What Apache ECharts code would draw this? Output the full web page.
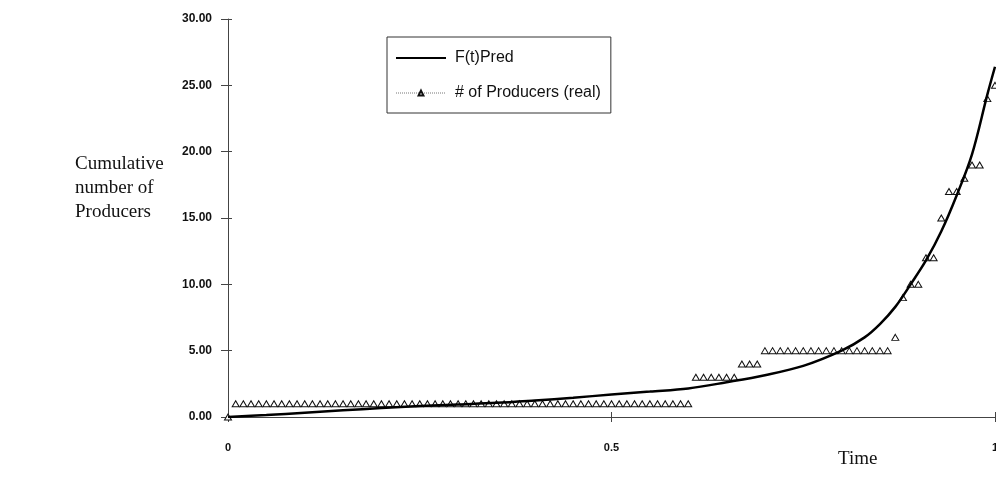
<!DOCTYPE html>
<html>
<head>
<meta charset="utf-8">
<script src="https://cdn.jsdelivr.net/npm/echarts@6/dist/echarts.min.js"></script>
<style>html,body{margin:0;padding:0;background:#fff}#c{width:996px;height:478px}</style>
</head>
<body>
<div id="c"></div>
<script>
// ---- data ----
const realT = [0.00,0.01,0.02,0.03,0.04,0.05,0.06,0.07,0.08,0.09,
  0.10,0.11,0.12,0.13,0.14,0.15,0.16,0.17,0.18,0.19,
  0.20,0.21,0.22,0.23,0.24,0.25,0.26,0.27,0.28,0.29,
  0.30,0.31,0.32,0.33,0.34,0.35,0.36,0.37,0.38,0.39,
  0.40,0.41,0.42,0.43,0.44,0.45,0.46,0.47,0.48,0.49,
  0.50,0.51,0.52,0.53,0.54,0.55,0.56,0.57,0.58,0.59,
  0.60,0.61,0.62,0.63,0.64,0.65,0.66,0.67,0.68,0.69,
  0.70,0.71,0.72,0.73,0.74,0.75,0.76,0.77,0.78,0.79,
  0.80,0.81,0.82,0.83,0.84,0.85,0.86,0.87,0.88,0.89,
  0.90,0.91,0.92,0.93,0.94,0.95,0.96,0.97,0.98,0.99,1.00];
const realV = [0,1,1,1,1,1,1,1,1,1,
  1,1,1,1,1,1,1,1,1,1,
  1,1,1,1,1,1,1,1,1,1,
  1,1,1,1,1,1,1,1,1,1,
  1,1,1,1,1,1,1,1,1,1,
  1,1,1,1,1,1,1,1,1,1,
  1,3,3,3,3,3,3,4,4,4,
  5,5,5,5,5,5,5,5,5,5,
  5,5,5,5,5,5,5,6,9,10,
  10,12,12,15,17,17,18,19,19,24,25];
const predT = [0,0.05,0.10,0.15,0.20,0.25,0.30,0.35,0.40,0.45,0.50,0.55,0.60,0.65,0.70,0.75,0.80,0.83,0.85,0.87,0.89,0.91,0.93,0.95,0.97,0.99,1.00];
const predV = [0,0.15,0.32,0.50,0.67,0.83,0.95,1.07,1.25,1.45,1.70,1.92,2.15,2.62,3.15,3.85,5.00,6.00,7.00,8.30,10.00,11.80,14.00,16.70,19.80,24.30,26.40];
const yTicks = ['0.00','5.00','10.00','15.00','20.00','25.00','30.00'];
const xTicks = {0:'0',0.5:'0.5',1:'1'};
const seriesNames = ['F(t)Pred', '# of Producers (real)'];

const chart = echarts.init(document.getElementById('c'), null, {renderer:'canvas'});
const axisCol = '#444';
const labelFont = {fontFamily:'Liberation Sans, Arial, sans-serif', fontWeight:'bold', fontSize:12, color:'#111'};
const opt = {
  animation:false,
  grid:{left:228, right:1, top:19, bottom:61, containLabel:false, outerBoundsMode:'none'},
  legend:{
    orient:'vertical', left:387, top:37,
    padding:[13,10,12,8], itemGap:19, itemWidth:50, itemHeight:6,
    borderColor:'#333', borderWidth:1, backgroundColor:'#fff',
    textStyle:{fontFamily:'Liberation Sans, Arial, sans-serif', fontSize:16, color:'#111', padding:[0,0,0,4], lineHeight:16},
    data:[
      {name:seriesNames[0], itemStyle:{opacity:0}},
      {name:seriesNames[1], lineStyle:{opacity:1, type:'dotted', color:'#777', width:1}}
    ]
  },
  xAxis:[{
    type:'value', min:0, max:1, interval:0.5,
    axisLine:{lineStyle:{color:axisCol, width:1.2}},
    axisTick:{length:5, lineStyle:{color:axisCol}},
    splitLine:{show:false},
    axisLabel:Object.assign({margin:25, formatter:v=>xTicks[v]!==undefined?xTicks[v]:''}, labelFont, {fontSize:11})
  },{
    type:'value', min:0, max:1, interval:0.5, position:'bottom',
    axisLine:{show:false}, axisLabel:{show:false}, splitLine:{show:false},
    axisTick:{inside:true, length:5, lineStyle:{color:axisCol}}
  }],
  yAxis:[{
    type:'value', min:0, max:30, interval:5,
    axisLine:{show:true, lineStyle:{color:axisCol, width:1}},
    axisTick:{show:true, length:7, lineStyle:{color:axisCol}},
    splitLine:{show:false},
    axisLabel:Object.assign({margin:16, formatter:v=>yTicks[Math.round(v/5)]}, labelFont)
  },{
    type:'value', min:0, max:30, interval:5, position:'left',
    axisLine:{show:false}, axisLabel:{show:false}, splitLine:{show:false},
    axisTick:{show:true, inside:true, length:4, lineStyle:{color:axisCol}}
  }],
  graphic:[
    {type:'text', left:75, top:152, style:{text:'Cumulative\nnumber of\nProducers', font:'19px "Liberation Serif", "Times New Roman", serif', fill:'#111', lineHeight:24}},
    {type:'text', left:838, top:450, style:{text:'Time', font:'19px "Liberation Serif", "Times New Roman", serif', fill:'#111'}}
  ],
  series:[
    {
      name:seriesNames[1], type:'line',
      data:realT.map((t,i)=>[t, realV[i]]),
      symbol:'triangle', symbolSize:[7,6],
      itemStyle:{color:'#fff', borderColor:'#111', borderWidth:1},
      lineStyle:{opacity:0, width:0},
      z:2
    },
    {
      name:seriesNames[0], type:'line',
      data:predT.map((t,i)=>[t, predV[i]]),
      symbol:'none', smooth:0.35,
      lineStyle:{color:'#000', width:2.5},
      itemStyle:{color:'#000'},
      z:3
    }
  ]
};
chart.setOption(opt);
</script>
</body>
</html>
